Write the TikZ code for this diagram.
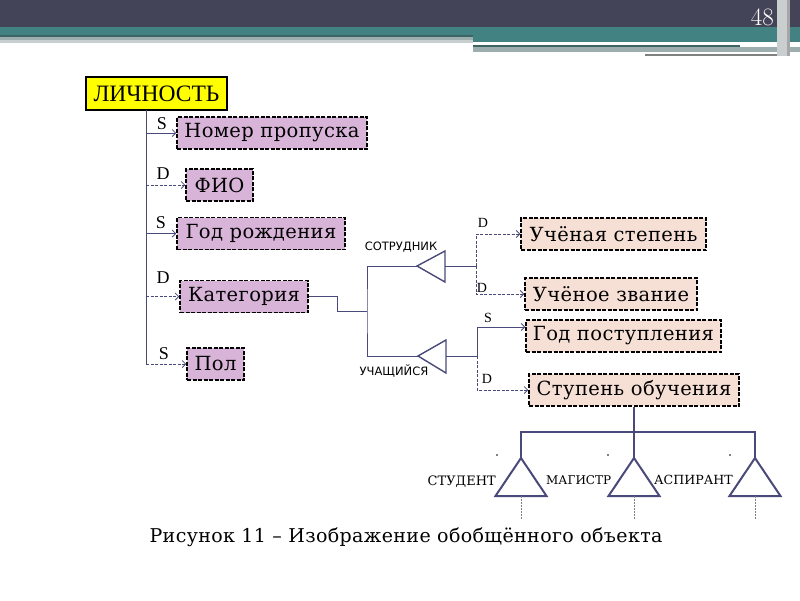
\documentclass[tikz,border=0pt]{standalone}
\usepackage{fontspec}
\newfontfamily\dvserif{DejaVu Serif}[LetterSpace=2]
\newfontfamily\plainserif{DejaVu Serif}
\newfontfamily\dvsans{DejaVu Sans}
\newfontfamily\libserif{Liberation Serif}
\usetikzlibrary{arrows.meta}

\definecolor{hdrdark}{HTML}{444458}
\definecolor{hdrteal}{HTML}{428282}
\definecolor{hdrline}{HTML}{3E6464}
\definecolor{hdrgray}{HTML}{9CAEAE}
\definecolor{hdrlight}{HTML}{C9CECE}
\definecolor{lilac}{HTML}{D8B4D8}
\definecolor{peach}{HTML}{F6E0D6}
\definecolor{navy}{HTML}{4A4A7A}
\definecolor{yellowbox}{HTML}{FFFF00}

\begin{document}
\begin{tikzpicture}[x=1pt,y=-1pt,
	attr/.style={draw=black,line width=1.5pt,dash pattern=on 4pt off 1.5pt,
		inner sep=0pt,minimum height=32pt,font=\fontsize{19.5}{21}\dvserif},
	lilacbox/.style={attr,fill=lilac},
	peachbox/.style={attr,fill=peach},
	conn/.style={draw=navy,line width=0.8pt},
	sbranch/.style={conn,-{Straight Barb[length=3.5pt,width=7pt]}},
	dbranch/.style={sbranch,dash pattern=on 3pt off 1.5pt},
	biglbl/.style={font=\fontsize{18}{20}\libserif,inner sep=0pt},
	smalllbl/.style={font=\fontsize{14}{16}\libserif,inner sep=0pt},
	rolelbl/.style={font=\fontsize{11.5}{13}\dvsans,inner sep=0pt},
	subtri/.style={draw=navy,line width=1.4pt,line join=miter},
	levellbl/.style={font=\fontsize{13}{14}\plainserif,inner sep=0pt}]
	\useasboundingbox (0,0) rectangle (800,600);

	% slide header
	\fill[hdrdark] (0,0) rectangle (800,27);
	\fill[hdrteal] (0,27) rectangle (473,35);
	\fill[hdrline] (0,35) rectangle (473,37);
	\fill[hdrgray] (0,37) rectangle (473,40);
	\fill[hdrlight] (0,40) rectangle (473,43);
	\fill[hdrteal] (473,27) rectangle (800,42);
	\fill[white] (473,43) rectangle (740,45);
	\fill[hdrline] (473,45) rectangle (740,47);
	\fill[hdrgray] (473,47) rectangle (800,52);
	\fill[white] (645,52) rectangle (786,54);
	\fill[gray] (645,54) rectangle (786,56);
	\fill[hdrlight] (777,0) rectangle (787,56);
	\fill[gray!70] (787,0) rectangle (790,56);
	\node[text=white,font=\fontsize{25}{26}\selectfont,anchor=east,inner sep=0pt] (pagenum) at (774,17) {48};

	% main entity and attributes
	\node[draw=black,line width=2pt,fill=yellowbox,inner sep=0pt,minimum width=141pt,
		minimum height=33pt,font=\fontsize{23.5}{25}\libserif] (lich) at (156.5,93.5) {ЛИЧНОСТЬ};
	\node[lilacbox,minimum width=190pt] (nomer) at (272,133) {Номер пропуска};
	\node[lilacbox,minimum width=67pt] (fio) at (219.5,185) {ФИО};
	\node[lilacbox,minimum width=168pt] (god) at (261,233.5) {Год рождения};
	\node[lilacbox,minimum width=128pt] (kat) at (244,296.5) {Категория};
	\node[lilacbox,minimum width=57pt] (pol) at (215.5,364) {Пол};

	\coordinate (trunk) at (146,110);
	\draw[conn] (trunk) -- (trunk |- pol.west);
	\draw[sbranch] (trunk |- nomer.west) -- (nomer.west);
	\draw[dbranch] (trunk |- fio.west) -- (fio.west);
	\draw[sbranch] (trunk |- god.west) -- (god.west);
	\draw[dbranch] (trunk |- kat.west) -- (kat.west);
	\draw[dbranch] (trunk |- pol.west) -- (pol.west);

	\node[biglbl] (s1) at (162,123.5) {S};
	\node[biglbl] (d1) at (163,174) {D};
	\node[biglbl] (s2) at (161,222.5) {S};
	\node[biglbl] (d2) at (163,278) {D};
	\node[biglbl] (s3) at (164,354) {S};

	% category split
	\coordinate (split) at (367,311);
	\coordinate (sotrtip) at (417,266);
	\coordinate (uchtip) at (418,356);
	\draw[conn] (kat.east) -- ++(29,0) |- (split);
	\draw[conn] (sotrtip) -| (split) |- (uchtip);

	\draw[subtri] (sotrtip) -- (445,251) -- (445,282) -- cycle;
	\draw[subtri] (uchtip) -- (446,340) -- (446,373) -- cycle;
	\coordinate (sotrfork) at (476,266);
	\coordinate (uchfork) at (477,356);
	\draw[conn] (445,266) -- (sotrfork);
	\draw[conn] (446,356) -- (uchfork);

	\node[rolelbl] (sotr) at (401,247) {СОТРУДНИК};
	\node[rolelbl] (uch) at (394,371) {УЧАЩИЙСЯ};

	\node[peachbox,minimum width=185pt] (stepen) at (613.5,234) {Учёная степень};
	\node[peachbox,minimum width=172pt] (zvanie) at (611,294) {Учёное звание};
	\node[peachbox,minimum width=195pt] (postup) at (623.5,336) {Год поступления};
	\node[peachbox,minimum width=210pt] (stupen) at (634,390) {Ступень обучения};

	\draw[dbranch] (sotrfork) |- (stepen.west);
	\draw[dbranch] (sotrfork) |- (zvanie.west);
	\draw[sbranch] (uchfork) |- ([yshift=9pt]postup.west);
	\draw[dbranch] (uchfork) |- (stupen.west);

	\node[smalllbl] (d3) at (483,223) {D};
	\node[smalllbl] (d4) at (482,288) {D};
	\node[smalllbl] (s4) at (488,318) {S};
	\node[smalllbl] (d5) at (487,379) {D};

	% study levels
	\coordinate (studtip) at (521,458);
	\coordinate (magtip) at (634,458);
	\coordinate (asptip) at (755,458);
	\coordinate (bar) at (634,432);
	\draw[draw=navy,line width=2.2pt] (stupen.south) -- (magtip);
	\draw[draw=navy,line width=2.2pt] (studtip) |- (bar) -| (asptip);
	\foreach \t in {studtip,magtip,asptip} {
		\draw[draw=navy,line width=2pt,line join=miter] (\t) -- ++(-25.5,38) -- ++(51,0) -- cycle;
		\draw[gray,line width=0.6pt,dash pattern=on 2pt off 1pt] ([yshift=-38pt]\t) -- ++(0,24);
	}
	\fill[black] (497,455) circle (0.9);
	\fill[black] (608,455) circle (0.9);
	\fill[black] (730,455) circle (0.9);

	\node[levellbl,anchor=east] (stud) at (496,482) {СТУДЕНТ};
	\node[levellbl,font=\fontsize{12}{14}\plainserif,anchor=west] (mag) at (546,480) {МАГИСТР};
	\node[levellbl,font=\fontsize{12.6}{14}\plainserif,anchor=west] (asp) at (654,480) {АСПИРАНТ};

	\node[font=\fontsize{19}{21}\dvserif,inner sep=0pt] (caption) at (406,537)
		{Рисунок 11 – Изображение обобщённого объекта};
\end{tikzpicture}
\end{document}
